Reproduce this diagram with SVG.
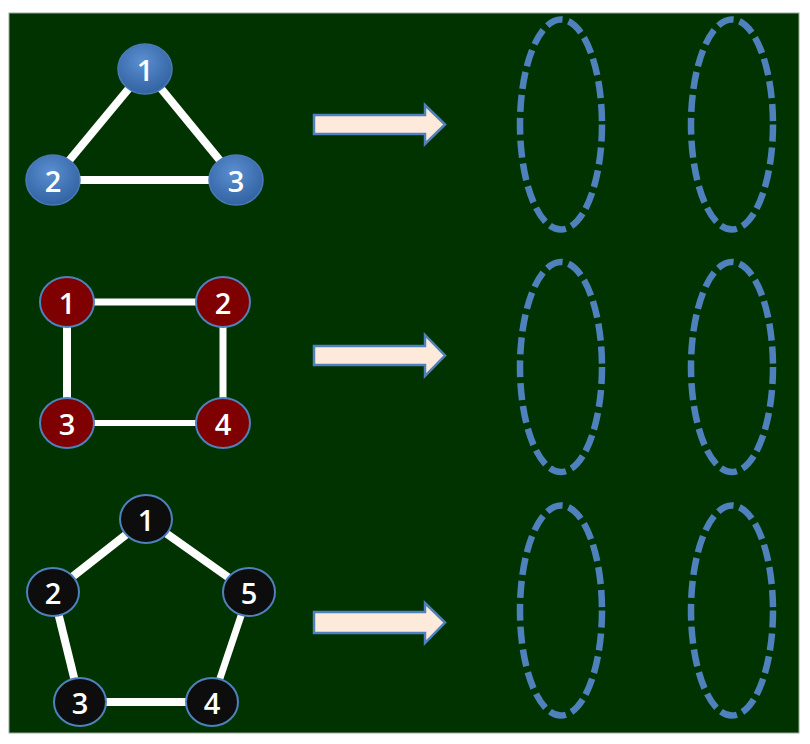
<svg xmlns="http://www.w3.org/2000/svg" width="810" height="744" viewBox="0 0 810 744">
<defs>
<radialGradient id="gBlue" cx="0.45" cy="0.35" r="0.7">
<stop offset="0" stop-color="#5a8fd0"/>
<stop offset="1" stop-color="#2f5f9f"/>
</radialGradient>
<style>
.edge{stroke:#ffffff;stroke-linecap:butt;fill:none}
.nb{fill:url(#gBlue);stroke:#4a7ab8;stroke-width:1.5}
.nr{fill:#7f0000;stroke:#4f81bd;stroke-width:2}
.nk{fill:#0d0d0d;stroke:#4f81bd;stroke-width:2}
.lbl{font-family:"Open Sans","Liberation Sans",sans-serif;font-size:29px;font-weight:600;fill:#ffffff;text-anchor:middle;dominant-baseline:central}
.arrow{fill:#fdeadb;stroke:#4f81bd;stroke-width:2.5;stroke-linejoin:miter}
.slot{fill:none;stroke:#4f81bd;stroke-width:6.5;stroke-dasharray:17 6}
</style>
</defs>
<rect x="0" y="0" width="810" height="744" fill="#ffffff"/>
<rect x="9" y="13" width="790" height="720" fill="#003300" stroke="#9aa89a" stroke-width="1"/>

<g id="connectors">
<line class="edge" x1="145" y1="69" x2="53" y2="180" stroke-width="8"/>
<line class="edge" x1="145" y1="69" x2="236" y2="180" stroke-width="8"/>
<line class="edge" x1="53" y1="180" x2="236" y2="180" stroke-width="8"/>
<line class="edge" x1="67" y1="302" x2="223" y2="302" stroke-width="7"/>
<line class="edge" x1="67" y1="302" x2="67" y2="423" stroke-width="8"/>
<line class="edge" x1="223" y1="302" x2="223" y2="423" stroke-width="7"/>
<line class="edge" x1="67" y1="423" x2="223" y2="423" stroke-width="6"/>
<line class="edge" x1="146" y1="519" x2="53" y2="592" stroke-width="8"/>
<line class="edge" x1="146" y1="519" x2="249" y2="592" stroke-width="8"/>
<line class="edge" x1="53" y1="592" x2="80" y2="702" stroke-width="8"/>
<line class="edge" x1="249" y1="592" x2="212" y2="702" stroke-width="7"/>
<line class="edge" x1="80" y1="702" x2="212" y2="702" stroke-width="8"/>
</g>

<g id="tri-1"><ellipse class="nb" cx="145" cy="69" rx="27" ry="25"/><text class="lbl" x="145" y="69">1</text></g>
<g id="tri-2"><ellipse class="nb" cx="53" cy="180" rx="27" ry="25"/><text class="lbl" x="53" y="180">2</text></g>
<g id="tri-3"><ellipse class="nb" cx="236" cy="180" rx="27" ry="25"/><text class="lbl" x="236" y="180">3</text></g>

<g id="sq-1"><ellipse class="nr" cx="67" cy="302" rx="27" ry="25"/><text class="lbl" x="67" y="302">1</text></g>
<g id="sq-2"><ellipse class="nr" cx="223" cy="302" rx="27" ry="25"/><text class="lbl" x="223" y="302">2</text></g>
<g id="sq-3"><ellipse class="nr" cx="67" cy="423" rx="27" ry="25"/><text class="lbl" x="67" y="423">3</text></g>
<g id="sq-4"><ellipse class="nr" cx="223" cy="423" rx="27" ry="25"/><text class="lbl" x="223" y="423">4</text></g>

<g id="pent-1"><ellipse class="nk" cx="146" cy="519" rx="26" ry="24"/><text class="lbl" x="146" y="519">1</text></g>
<g id="pent-2"><ellipse class="nk" cx="53" cy="592" rx="26" ry="24"/><text class="lbl" x="53" y="592">2</text></g>
<g id="pent-3"><ellipse class="nk" cx="80" cy="702" rx="26" ry="24"/><text class="lbl" x="80" y="702">3</text></g>
<g id="pent-4"><ellipse class="nk" cx="212" cy="702" rx="26" ry="24"/><text class="lbl" x="212" y="702">4</text></g>
<g id="pent-5"><ellipse class="nk" cx="249" cy="592" rx="26" ry="24"/><text class="lbl" x="249" y="592">5</text></g>

<g id="arrow-1"><polygon class="arrow" points="314,115 425,115 425,105 445,124.5 425,144 425,134 314,134"/></g>
<g id="arrow-2"><polygon class="arrow" points="314,346 425,346 425,335 445,355.5 425,376 425,365 314,365"/></g>
<g id="arrow-3"><polygon class="arrow" points="314,612 425,612 425,603 445,622.5 425,643 425,633 314,633"/></g>

<g id="slots-1">
<ellipse class="slot" cx="561" cy="124.5" rx="41" ry="105"/>
<ellipse class="slot" cx="732" cy="124.5" rx="41" ry="105"/>
</g>
<g id="slots-2">
<ellipse class="slot" cx="561" cy="367" rx="41" ry="105"/>
<ellipse class="slot" cx="732" cy="367" rx="41" ry="105"/>
</g>
<g id="slots-3">
<ellipse class="slot" cx="561" cy="610.5" rx="41" ry="105"/>
<ellipse class="slot" cx="732" cy="610.5" rx="41" ry="105"/>
</g>
</svg>
